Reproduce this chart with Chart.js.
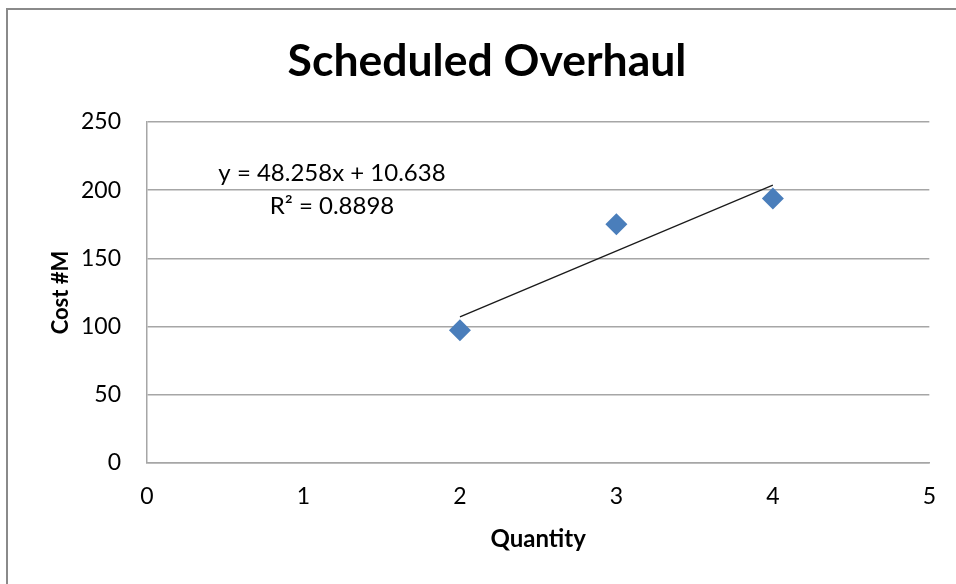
<!DOCTYPE html>
<html>
<head>
<meta charset="utf-8">
<script src="https://cdn.jsdelivr.net/npm/chart.js@4/dist/chart.umd.min.js"></script>
<style>
html,body{margin:0;padding:0;background:#fff;overflow:hidden;}
#wrap{position:relative;width:956px;height:584px;}
</style>
</head>
<body>
<div id="wrap"><canvas id="c" width="956" height="584"></canvas></div>
<script>
// Data
const quantity = [2, 3, 4];
const cost = [97.35, 175.02, 193.86];
const trendX = [2, 4];
const trendY = [107.15, 203.67];
const xTicks = [0, 1, 2, 3, 4, 5];
const yTicks = [0, 50, 100, 150, 200, 250];
const titleText = 'Scheduled Overhaul';
const eqLines = ['y = 48.258x + 10.638', 'R\u00B2 = 0.8898'];

const FONT = 'Lato, "Open Sans", sans-serif';
const GRID = '#a6a6a6';

const frame = {
  id: 'frame',
  beforeDraw(chart) {
    const ctx = chart.ctx;
    ctx.save();
    ctx.fillStyle = '#fff';
    ctx.fillRect(0, 0, chart.width, chart.height);
    ctx.strokeStyle = '#8a8a8a';
    ctx.lineWidth = 2;
    ctx.strokeRect(7, 9, chart.width + 20, chart.height + 20);
    ctx.restore();
  }
};

const eqLabel = {
  id: 'eqLabel',
  afterDatasetsDraw(chart) {
    const ctx = chart.ctx;
    const a = chart.chartArea;
    ctx.save();
    ctx.fillStyle = '#000';
    ctx.font = '24px ' + FONT;
    ctx.textAlign = 'center';
    ctx.textBaseline = 'middle';
    const cx = a.left + 185;
    ctx.fillText(eqLines[0], cx, a.top + 51);
    ctx.fillText(eqLines[1], cx, a.top + 84);
    ctx.restore();
  }
};

new Chart(document.getElementById('c'), {
  type: 'scatter',
  data: {
    datasets: [
      {
        label: 'Cost',
        data: quantity.map((q, i) => ({x: q, y: cost[i]})),
        pointStyle: 'rectRot',
        pointRadius: 11,
        pointHoverRadius: 11,
        backgroundColor: '#4a7ebb',
        borderColor: '#4a7ebb',
        borderWidth: 0,
        showLine: false,
        order: 1
      },
      {
        label: 'Trend',
        data: trendX.map((q, i) => ({x: q, y: trendY[i]})),
        showLine: true,
        pointRadius: 0,
        borderColor: '#1a1a1a',
        borderWidth: 1.3,
        fill: false,
        order: 2
      }
    ]
  },
  options: {
    responsive: false,
    animation: false,
    events: [],
    layout: {padding: {left: 40, right: 22, top: 0, bottom: 0}},
    plugins: {
      legend: {display: false},
      tooltip: {enabled: false},
      title: {
        display: true,
        text: titleText,
        color: '#000',
        font: {family: FONT, size: 44.5, weight: 'bold'},
        padding: {top: 35, bottom: 33.6}
      }
    },
    scales: {
      x: {
        type: 'linear',
        min: 0, max: 5,
        afterBuildTicks: s => { s.ticks = xTicks.map(v => ({value: v})); },
        afterFit: s => { s.height = 121; },
        grid: {display: false, drawTicks: false},
        border: {display: true, color: GRID, width: 1.5},
        ticks: {color: '#000', font: {family: FONT, size: 23}, padding: 20},
        title: {display: true, text: 'Quantity', color: '#000',
          font: {family: FONT, size: 24, weight: 'bold'}, padding: {top: 0, bottom: 30}}
      },
      y: {
        type: 'linear',
        min: 0, max: 250,
        afterBuildTicks: s => { s.ticks = yTicks.map(v => ({value: v})); },
        afterFit: s => { s.width = 107; },
        grid: {display: true, color: GRID, lineWidth: 1.5, drawTicks: false},
        border: {display: true, color: GRID, width: 1.5},
        ticks: {color: '#000', font: {family: FONT, size: 23}, padding: 26},
        title: {display: true, text: 'Cost #M', color: '#000',
          font: {family: FONT, size: 22, weight: 'bold'}, padding: {top: 8, bottom: 0}}
      }
    }
  },
  plugins: [frame, eqLabel]
});
</script>
</body>
</html>
